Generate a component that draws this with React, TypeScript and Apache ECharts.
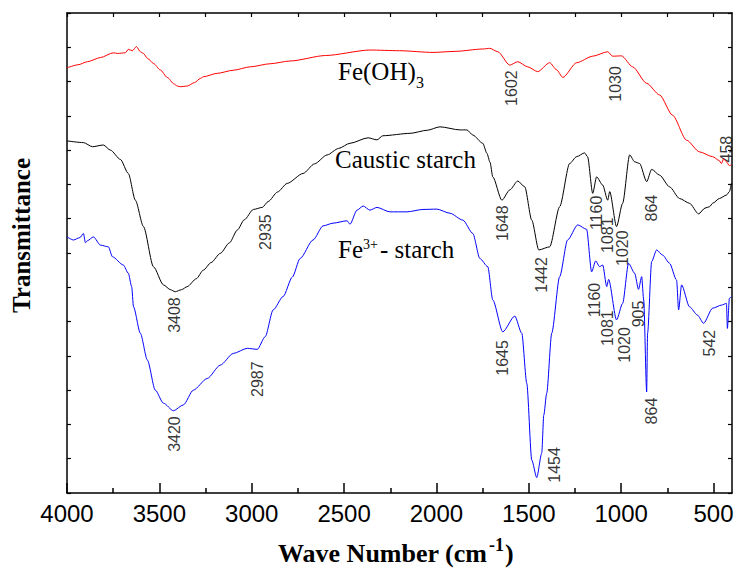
import React, { useEffect, useRef } from "react";
import * as echarts from "echarts";

// Fe(OH)3 spectrum (red)
const redWn = [4000, 3940, 3889, 3819, 3749, 3727, 3684, 3668, 3646, 3624, 3603, 3586, 3565, 3532, 3495, 3457, 3420, 3403, 3386, 3349, 3310, 3278, 3262, 3187, 3100, 3008, 2900, 2792, 2600, 2360, 2200, 2019, 1900, 1749, 1711, 1668, 1603, 1560, 1506, 1452, 1387, 1349, 1316, 1241, 1154, 1073, 1046, 998, 938, 862, 792, 722, 646, 576, 505, 470, 457, 445, 430, 415, 403];
const redT = [12.40, 12.49, 12.58, 12.70, 12.84, 12.82, 12.84, 12.94, 12.90, 13.02, 12.87, 12.82, 12.68, 12.53, 12.34, 12.12, 11.93, 11.87, 11.85, 11.87, 11.97, 12.09, 12.14, 12.24, 12.33, 12.43, 12.52, 12.60, 12.76, 12.92, 12.90, 12.85, 12.88, 12.95, 12.97, 12.87, 12.48, 12.58, 12.43, 12.29, 12.55, 12.34, 12.12, 12.55, 12.74, 12.87, 12.74, 12.75, 12.43, 11.95, 11.61, 11.02, 10.29, 9.95, 9.81, 9.70, 9.61, 9.75, 9.66, 9.55, 9.57];

// Caustic starch spectrum (black)
const blackWn = [4000, 3911, 3862, 3803, 3765, 3711, 3668, 3630, 3586, 3532, 3478, 3440, 3414, 3380, 3349, 3300, 3262, 3220, 3170, 3120, 3078, 3040, 2991, 2943, 2911, 2860, 2808, 2722, 2660, 2592, 2530, 2468, 2370, 2322, 2290, 2143, 2050, 1981, 1873, 1835, 1803, 1749, 1727, 1710, 1695, 1646, 1603, 1560, 1522, 1484, 1446, 1387, 1333, 1279, 1241, 1198, 1182, 1154, 1133, 1100, 1073, 1062, 1025, 992, 954, 927, 900, 862, 835, 792, 738, 684, 630, 581, 546, 522, 505, 468, 430, 414, 403];
const blackT = [10.27, 10.22, 10.10, 10.15, 10.00, 9.73, 9.32, 8.54, 7.77, 6.60, 6.07, 5.93, 5.87, 5.93, 6.02, 6.25, 6.50, 6.72, 6.99, 7.30, 7.67, 7.97, 8.27, 8.33, 8.50, 8.78, 9.03, 9.32, 9.60, 9.86, 10.05, 10.20, 10.36, 10.30, 10.42, 10.49, 10.58, 10.68, 10.59, 10.59, 10.44, 10.20, 9.91, 9.65, 9.22, 8.54, 8.84, 9.10, 8.93, 7.96, 7.09, 7.18, 8.35, 9.61, 9.81, 9.92, 9.81, 8.74, 9.22, 8.98, 8.54, 8.79, 7.77, 8.45, 9.86, 9.66, 9.61, 9.08, 9.44, 9.27, 8.93, 8.59, 8.45, 8.14, 8.31, 8.35, 8.45, 8.59, 8.69, 8.79, 9.04];

// Fe3+-starch spectrum (blue)
const blueWn = [4000, 3965, 3930, 3911, 3900, 3889, 3857, 3819, 3776, 3754, 3695, 3668, 3650, 3640, 3603, 3565, 3522, 3478, 3424, 3370, 3316, 3241, 3170, 3100, 3024, 2970, 2927, 2884, 2830, 2780, 2738, 2668, 2614, 2560, 2484, 2468, 2430, 2397, 2360, 2322, 2252, 2160, 2073, 1998, 1927, 1857, 1803, 1765, 1722, 1695, 1641, 1576, 1538, 1511, 1484, 1457, 1430, 1419, 1403, 1376, 1333, 1290, 1235, 1187, 1160, 1138, 1117, 1100, 1078, 1068, 1025, 992, 960, 927, 906, 889, 878, 862, 857, 835, 808, 776, 738, 700, 689, 673, 630, 587, 554, 505, 457, 430, 425, 414, 403];
const blueT = [7.47, 7.38, 7.45, 7.57, 7.30, 7.36, 7.47, 7.23, 7.18, 6.89, 6.65, 6.41, 6.02, 5.43, 4.66, 3.88, 3.00, 2.62, 2.40, 2.57, 3.00, 3.34, 3.73, 4.07, 4.22, 4.19, 4.56, 5.34, 5.73, 6.30, 6.84, 7.38, 7.79, 7.87, 7.94, 7.84, 8.25, 8.37, 8.25, 8.33, 8.20, 8.20, 8.27, 8.28, 8.16, 7.96, 7.57, 6.84, 6.60, 5.63, 4.70, 5.16, 4.66, 3.20, 0.96, 0.45, 1.16, 2.27, 2.91, 4.66, 6.31, 7.38, 7.82, 7.69, 6.45, 6.77, 6.60, 6.65, 6.02, 6.23, 5.05, 5.53, 6.70, 6.41, 5.94, 6.31, 5.63, 2.95, 4.66, 6.75, 7.09, 6.94, 6.70, 6.21, 5.34, 6.07, 5.43, 5.19, 4.95, 5.39, 5.48, 5.53, 4.80, 5.68, 5.73];

// Peak annotations
const peakText = ["1602", "1030", "458", "3408", "2935", "1648", "1442", "1160", "1081", "1020", "864", "3420", "2987", "1645", "1454", "1160", "1081", "1020", "905", "864", "542"];
const peakWn = [1592, 1030, 430, 3419, 2927, 1641, 1430, 1133, 1073, 992, 835, 3419, 2970, 1641, 1360, 1144, 1073, 981, 906, 835, 522];
const peakT = [11.81, 11.93, 10.03, 5.19, 7.61, 7.87, 6.36, 8.17, 7.52, 7.14, 8.31, 1.72, 3.32, 3.94, 0.82, 5.63, 4.81, 4.32, 5.22, 2.39, 4.37];

// Axis ticks
const majorTicks = [500, 1000, 1500, 2000, 2500, 3000, 3500, 4000];
const minorTicks = [750, 1250, 1750, 2250, 2750, 3250, 3750];
const topTicks = [500, 750, 1000, 1250, 1500, 1750, 2000, 2250, 2500, 2750, 3000, 3250, 3500, 3750, 4000];

const zip = (a: number[], b: number[]) => a.map((x, i) => [x, b[i]]);

const SERIF = '"Liberation Serif", "Times New Roman", serif';
const NARROW = '"Liberation Sans Narrow", "Arial Narrow", "Liberation Sans", Arial, sans-serif';

export default function App() {
  const ref = useRef<HTMLDivElement>(null);
  useEffect(() => {
    if (!ref.current) return;
    const chart = echarts.init(ref.current, null, { renderer: "svg" });
    const gridRect = { left: 67, right: 2, top: 13, bottom: 81, containLabel: false, outerBoundsMode: "none" };
    const axisLine = { show: true, onZero: false, lineStyle: { color: "#000", width: 1.5 } };
    const lineBase = { type: "line", xAxisIndex: 0, yAxisIndex: 0, showSymbol: false, symbol: "none", silent: true, smooth: 0.25, smoothMonotone: "x" };
    const option: any = {
      animation: false,
      backgroundColor: "#fff",
      grid: [{ ...gridRect }, { ...gridRect }],
      xAxis: [
        {
          type: "value", gridIndex: 0, min: 400, max: 4000, inverse: true, position: "bottom",
          axisLine,
          axisTick: { show: true, inside: true, length: 10, customValues: majorTicks, lineStyle: { color: "#000", width: 1.5 } },
          axisLabel: { show: true, customValues: majorTicks, formatter: (v: number) => String(v), color: "#000", fontSize: 24, fontFamily: NARROW, margin: 8, hideOverlap: false },
          splitLine: { show: false },
        },
        {
          type: "value", gridIndex: 0, min: 400, max: 4000, inverse: true, position: "top",
          axisLine,
          axisTick: { show: true, inside: true, length: 4, customValues: topTicks, lineStyle: { color: "#000", width: 1.2 } },
          axisLabel: { show: false },
          splitLine: { show: false },
        },
        {
          type: "value", gridIndex: 1, min: 400, max: 4000, inverse: true, position: "bottom",
          axisLine: { show: false },
          axisTick: { show: true, inside: true, length: 5, customValues: minorTicks, lineStyle: { color: "#000", width: 1.5 } },
          axisLabel: { show: false },
          splitLine: { show: false },
        },
      ],
      yAxis: [
        {
          type: "value", gridIndex: 0, min: 0, max: 14, interval: 1, position: "left",
          axisLine,
          axisTick: { show: true, inside: true, length: 4, lineStyle: { color: "#000", width: 1.2 } },
          axisLabel: { show: false },
          splitLine: { show: false },
        },
        {
          type: "value", gridIndex: 0, min: 0, max: 14, interval: 1, position: "right",
          axisLine,
          axisTick: { show: true, inside: true, length: 4, lineStyle: { color: "#000", width: 1.2 } },
          axisLabel: { show: false },
          splitLine: { show: false },
        },
        {
          type: "value", gridIndex: 1, min: 0, max: 14, show: false,
        },
      ],
      series: [
        { ...lineBase, name: "Fe(OH)3", data: zip(redWn, redT), lineStyle: { color: "#ff0000", width: 1 } },
        { ...lineBase, name: "Caustic starch", data: zip(blackWn, blackT), lineStyle: { color: "#000000", width: 1 } },
        { ...lineBase, name: "Fe3+- starch", data: zip(blueWn, blueT), lineStyle: { color: "#0000ff", width: 1 } },
        {
          name: "peaks", type: "scatter", xAxisIndex: 0, yAxisIndex: 0, silent: true,
          symbolSize: 1, itemStyle: { color: "rgba(0,0,0,0)" },
          data: peakText.map((t, i) => ({ name: t, value: [peakWn[i], peakT[i]] })),
          label: {
            show: true, formatter: "{b}", rotate: 90, position: "inside",
            color: "#000", fontSize: 16, fontFamily: NARROW,
          },
          emphasis: { disabled: true },
        },
      ],
      graphic: [
        { type: "text", x: 338, y: 71.6, style: { text: "Fe(OH)", fontSize: 25, fontFamily: SERIF, fill: "#000", align: "left", verticalAlign: "middle" } },
        { type: "text", x: 416, y: 82.6, style: { text: "3", fontSize: 16, fontFamily: SERIF, fill: "#000", align: "left", verticalAlign: "middle" } },
        { type: "text", x: 335, y: 159.6, style: { text: "Caustic starch", fontSize: 25, fontFamily: SERIF, fill: "#000", align: "left", verticalAlign: "middle" } },
        { type: "text", x: 338, y: 249.6, style: { text: "Fe", fontSize: 25, fontFamily: SERIF, fill: "#000", align: "left", verticalAlign: "middle" } },
        { type: "text", x: 363, y: 244.3, style: { text: "3+", fontSize: 14, fontFamily: SERIF, fill: "#000", align: "left", verticalAlign: "middle" } },
        { type: "text", x: 380, y: 249.6, style: { text: "- starch", fontSize: 25, fontFamily: SERIF, fill: "#000", align: "left", verticalAlign: "middle" } },
        { type: "text", x: 21.6, y: 235.5, rotation: Math.PI / 2, style: { text: "Transmittance", fontSize: 25, fontWeight: "bold", fontFamily: SERIF, fill: "#000", align: "center", verticalAlign: "middle" } },
        { type: "text", x: 278, y: 553, style: { text: "Wave Number (cm", fontSize: 26, fontWeight: "bold", fontFamily: SERIF, fill: "#000", align: "left", verticalAlign: "middle" } },
        { type: "text", x: 489, y: 545, style: { text: "-1", fontSize: 18, fontWeight: "bold", fontFamily: SERIF, fill: "#000", align: "left", verticalAlign: "middle" } },
        { type: "text", x: 505, y: 553, style: { text: ")", fontSize: 26, fontWeight: "bold", fontFamily: SERIF, fill: "#000", align: "left", verticalAlign: "middle" } },
      ],
    };
    chart.setOption(option);
    return () => chart.dispose();
  }, []);
  return (
    <div
      ref={ref}
      style={{ position: "fixed", left: 0, top: 0, width: 734, height: 574, background: "#fff" }}
    />
  );
}
